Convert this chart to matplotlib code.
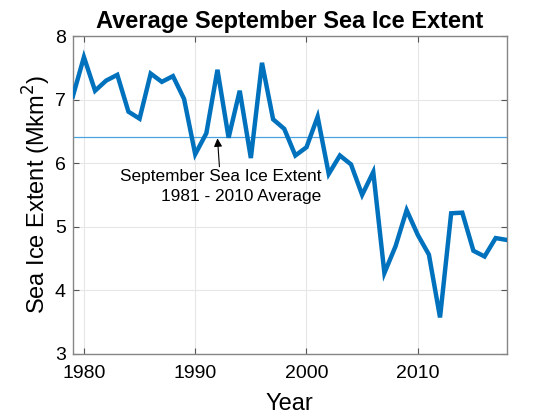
import matplotlib
matplotlib.use('Agg')
import matplotlib.pyplot as plt

years = list(range(1979, 2019))
extent = [7.05, 7.67, 7.14, 7.30, 7.39, 6.81, 6.70, 7.41, 7.28, 7.37,
          7.01, 6.14, 6.47, 7.47, 6.40, 7.14, 6.08, 7.58, 6.69, 6.54,
          6.12, 6.25, 6.73, 5.83, 6.12, 5.98, 5.50, 5.86, 4.27, 4.69,
          5.26, 4.87, 4.56, 3.57, 5.21, 5.22, 4.62, 4.53, 4.82, 4.79]
avg_1981_2010 = 6.41
note = "September Sea Ice Extent\n1981 - 2010 Average"
note_year = 1992

plt.rcParams['font.family'] = ['Liberation Sans', 'DejaVu Sans']

fig = plt.figure(figsize=(5.6, 4.2), dpi=100)
ax = fig.add_axes([0.130, 0.158, 0.775, 0.756])

ax.plot(years, extent, color='#0072BD', linewidth=3.2, solid_joinstyle='miter', zorder=3)
ax.axhline(avg_1981_2010, color='#4aa3df', linewidth=0.9, zorder=2)

ax.annotate(note, xy=(note_year, avg_1981_2010 - 0.02), xytext=(note_year + 0.3, 5.9),
            ha='center', va='top', multialignment='right', fontsize=12.4,
            linespacing=1.35,
            arrowprops=dict(arrowstyle='-|>', color='black', lw=0.8,
                            shrinkA=0, shrinkB=0, mutation_scale=12))

ax.set_xlim(1979, 2018)
ax.set_ylim(3, 8)
ax.set_xticks([1980, 1990, 2000, 2010])
ax.set_yticks([3, 4, 5, 6, 7, 8])
ax.grid(True, color='#e6e6e6', linewidth=0.8, zorder=0)
ax.set_axisbelow(True)
for s in ax.spines.values():
    s.set_color('#858585')
    s.set_linewidth(1.0)
ax.tick_params(direction='in', top=True, right=True, length=4, width=0.8,
               color='#555555', labelsize=14)
ax.tick_params(axis='x', pad=8)
ax.tick_params(axis='y', pad=5)

ax.set_xlabel('Year', fontsize=17, labelpad=8)
ax.set_ylabel('Sea Ice Extent (Mkm$^2$)', fontsize=17, labelpad=1)
ax.set_title('Average September Sea Ice Extent', fontsize=17, fontweight='bold', pad=6)

fig.savefig('out.png', dpi=100)
